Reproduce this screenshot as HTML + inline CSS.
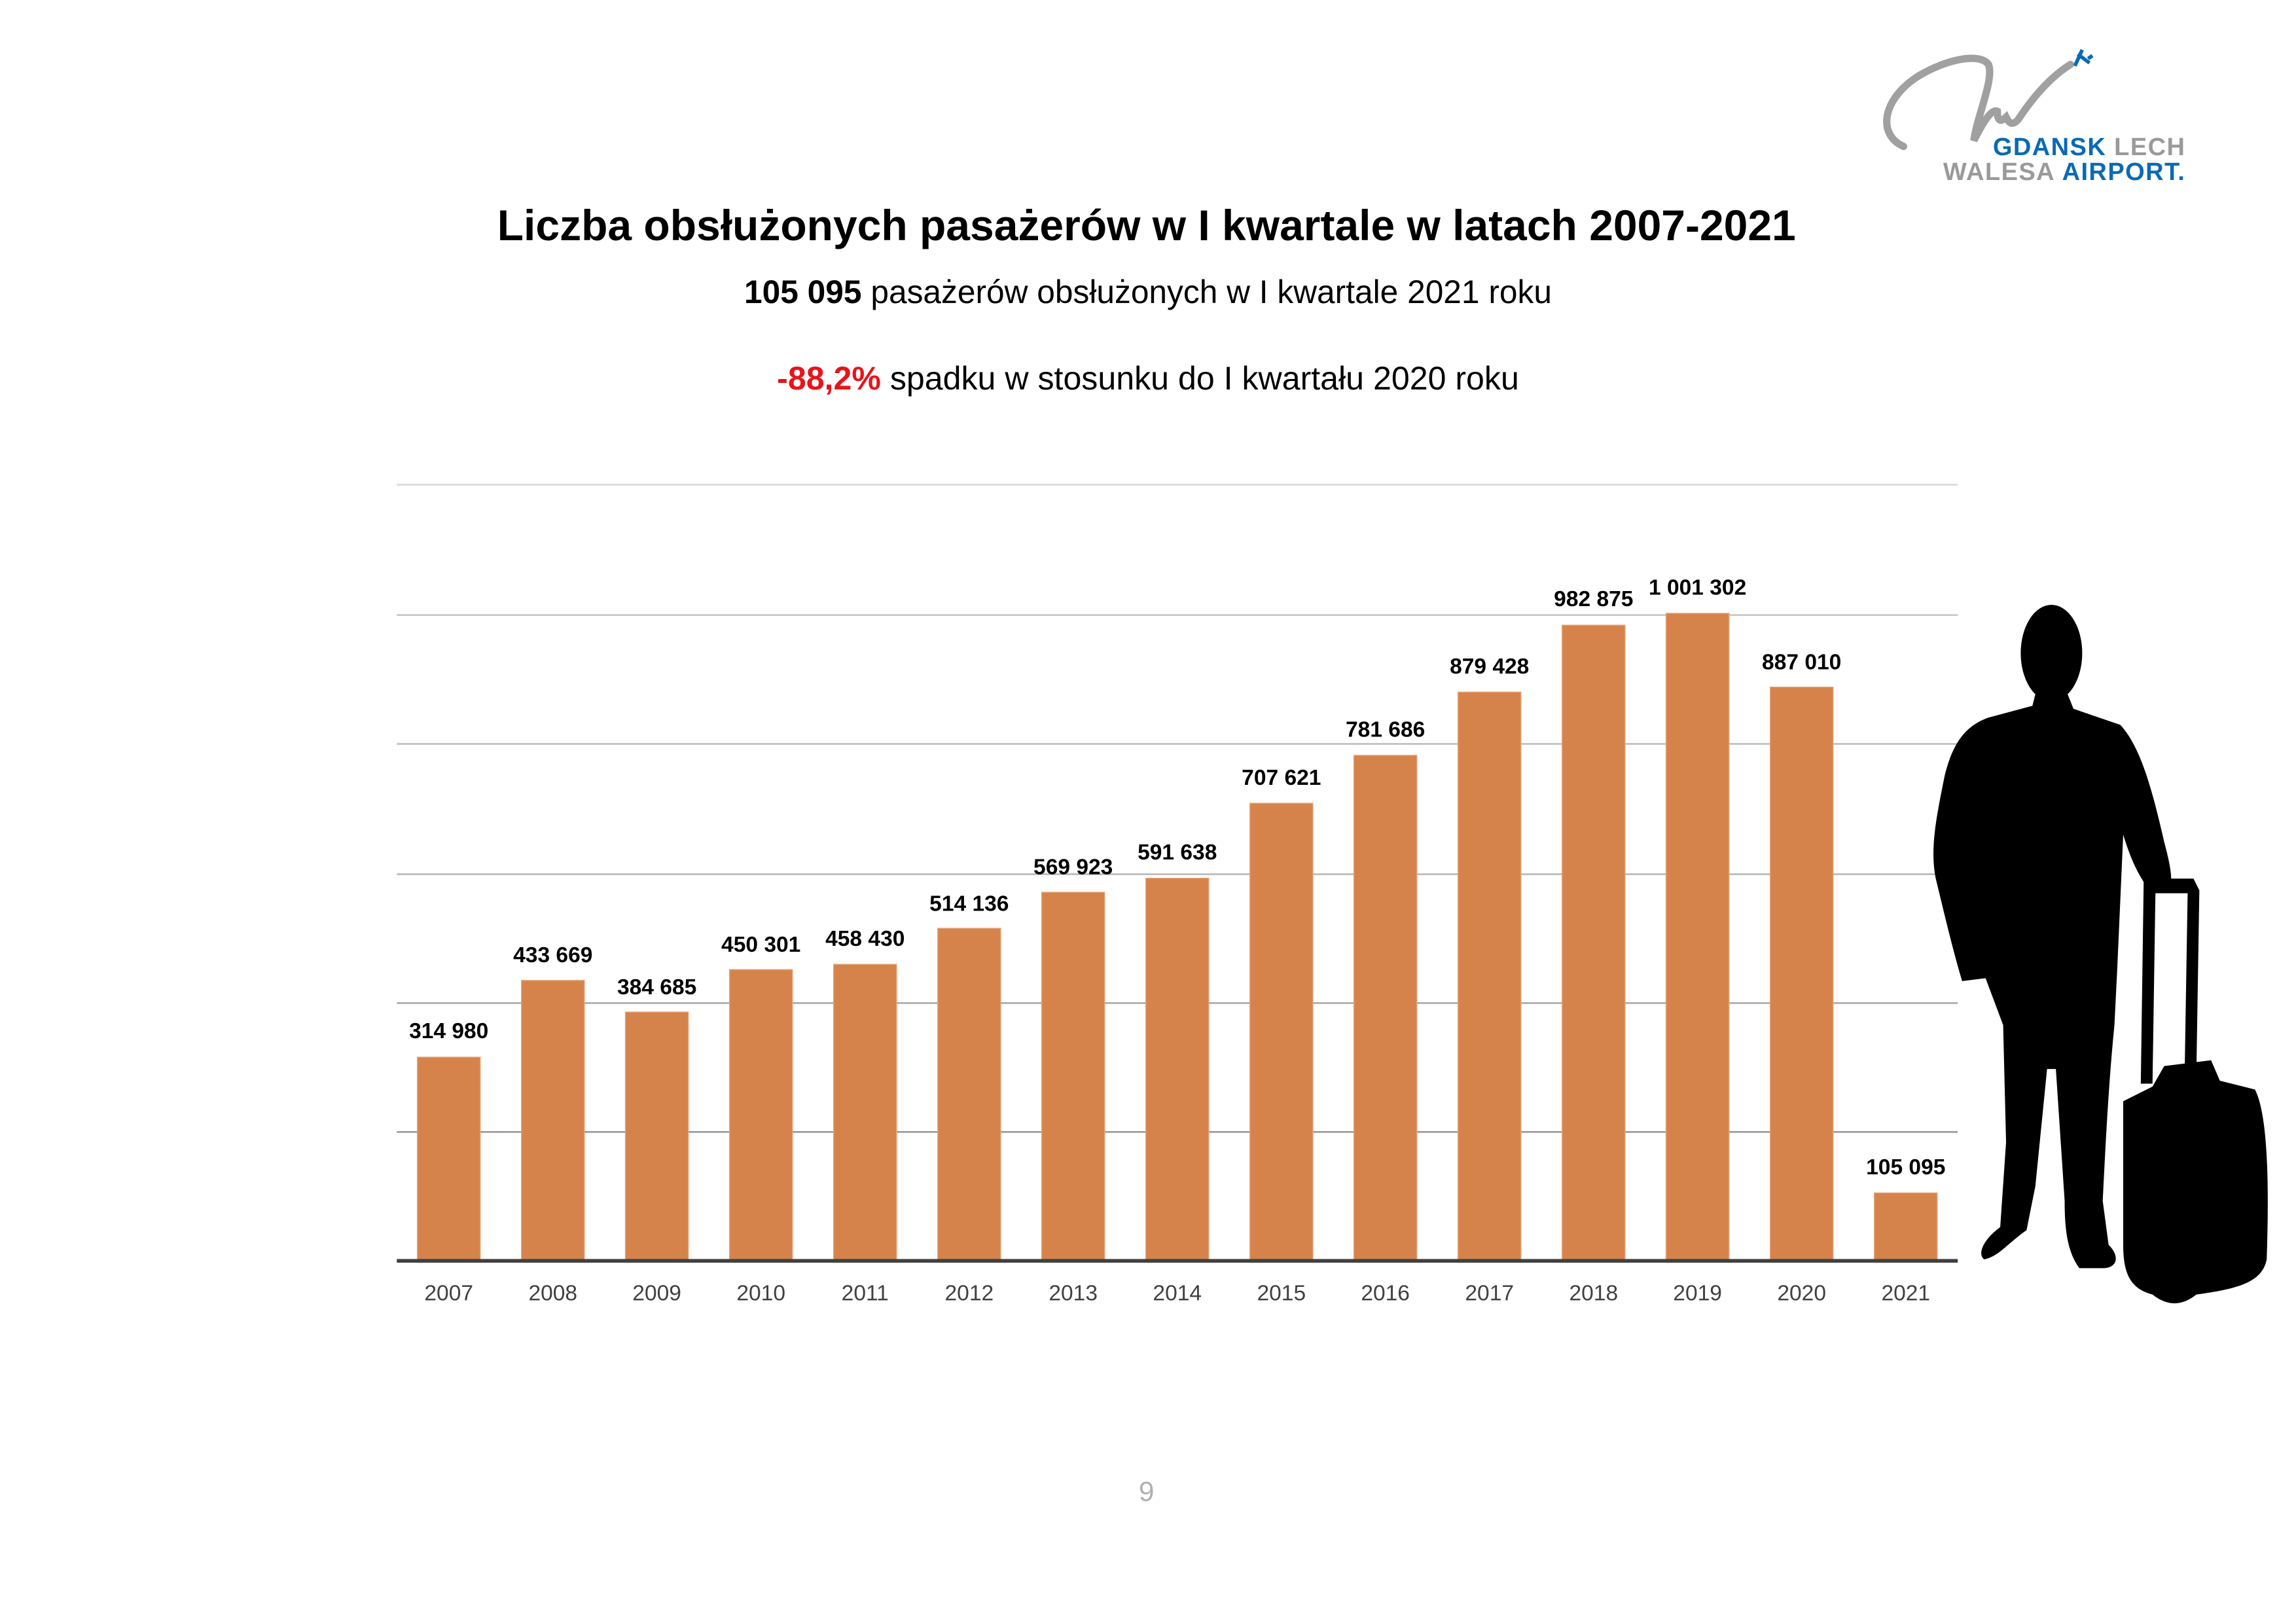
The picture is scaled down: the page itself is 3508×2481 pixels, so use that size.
<!DOCTYPE html>
<html><head><meta charset="utf-8"><style>
html,body{margin:0;padding:0;background:#fff;}
svg{display:block;}
</style></head><body>
<svg width="3508" height="2481" viewBox="0 0 1568 1109" preserveAspectRatio="none" xmlns="http://www.w3.org/2000/svg" font-family="'Liberation Sans', sans-serif">
<rect width="1568" height="1109" fill="#fff"/>
<!-- logo -->
<path d="M1300 100 C1282 92 1285 68 1310 52 C1330 40 1352 36 1358 44 C1362 54 1350 80 1348 96 C1354 84 1360 74 1364 76 C1364 82 1366 84 1370 80 C1372 84 1374 86 1378 82 C1386 70 1398 54 1414 44" fill="none" stroke="#a0a0a0" stroke-width="5" stroke-linecap="round"/>
<path d="M1419 37 l8 6 M1422 34 l-5 11 M1426 40 l3 -2" stroke="#0a6ab4" stroke-width="2.5" fill="none"/>
<text x="1361" y="106" font-size="17" font-weight="bold" fill="#0a6ab4" textLength="131">GDANSK <tspan fill="#9a9a9a">LECH</tspan></text>
<text x="1327" y="123" font-size="17" font-weight="bold" fill="#9a9a9a" textLength="165">WALESA <tspan fill="#0a6ab4">AIRPORT.</tspan></text>
<!-- titles -->
<text x="783" y="164" text-anchor="middle" font-size="29.5" font-weight="bold" fill="#000">Liczba obsłużonych pasażerów w I kwartale w latach 2007-2021</text>
<text x="784" y="207" text-anchor="middle" font-size="22.2" fill="#000"><tspan font-weight="bold">105 095</tspan> pasażerów obsłużonych w I kwartale 2021 roku</text>
<text x="784" y="266" text-anchor="middle" font-size="22.4" fill="#000"><tspan font-weight="bold" fill="#e8141b">-88,2%</tspan> spadku w stosunku do I kwartału 2020 roku</text>
<!-- grid -->
<g stroke-width="1.2">
<line x1="271" x2="1337" y1="331" y2="331" stroke="#dcdcdc"/>
<line x1="271" x2="1337" y1="420" y2="420" stroke="#c8c8c8"/>
<line x1="271" x2="1337" y1="508" y2="508" stroke="#c0c0c0"/>
<line x1="271" x2="1337" y1="597" y2="597" stroke="#b8b8b8"/>
<line x1="271" x2="1337" y1="685" y2="685" stroke="#aaa"/>
<line x1="271" x2="1337" y1="773" y2="773" stroke="#999"/>
</g>
<!-- bars -->
<g fill="#d6834b" stroke="#e6a57a" stroke-width="0.6">
<rect x="285" y="721.9" width="43" height="139.1"/>
<rect x="356.1" y="669.5" width="43" height="191.5"/>
<rect x="427.1" y="691.1" width="43" height="169.9"/>
<rect x="498.2" y="662.1" width="43" height="198.9"/>
<rect x="569.3" y="658.5" width="43" height="202.5"/>
<rect x="640.4" y="633.9" width="43" height="227.1"/>
<rect x="711.4" y="609.3" width="43" height="251.7"/>
<rect x="782.5" y="599.7" width="43" height="261.3"/>
<rect x="853.6" y="548.5" width="43" height="312.5"/>
<rect x="924.6" y="515.8" width="43" height="345.2"/>
<rect x="995.7" y="472.6" width="43" height="388.4"/>
<rect x="1066.8" y="426.9" width="43" height="434.1"/>
<rect x="1137.8" y="418.8" width="43" height="442.2"/>
<rect x="1208.9" y="469.2" width="43" height="391.8"/>
<rect x="1280" y="814.6" width="43" height="46.4"/>
</g>
<line x1="271" x2="1337" y1="861" y2="861" stroke="#404040" stroke-width="2.5"/>
<g font-size="15" font-weight="bold" fill="#000" text-anchor="middle">
<text x="306.5" y="709">314 980</text>
<text x="377.6" y="657">433 669</text>
<text x="448.6" y="679">384 685</text>
<text x="519.7" y="650">450 301</text>
<text x="590.8" y="646">458 430</text>
<text x="661.9" y="622">514 136</text>
<text x="732.9" y="597">569 923</text>
<text x="804" y="587">591 638</text>
<text x="875.1" y="536">707 621</text>
<text x="946.1" y="503">781 686</text>
<text x="1017.2" y="460">879 428</text>
<text x="1088.3" y="414">982 875</text>
<text x="1159.3" y="406">1 001 302</text>
<text x="1230.4" y="457">887 010</text>
<text x="1301.5" y="802">105 095</text>
</g>
<g font-size="15" fill="#404040" text-anchor="middle">
<text x="306.5" y="888">2007</text><text x="377.6" y="888">2008</text><text x="448.6" y="888">2009</text>
<text x="519.7" y="888">2010</text><text x="590.8" y="888">2011</text><text x="661.9" y="888">2012</text>
<text x="732.9" y="888">2013</text><text x="804" y="888">2014</text><text x="875.1" y="888">2015</text>
<text x="946.1" y="888">2016</text><text x="1017.2" y="888">2017</text><text x="1088.3" y="888">2018</text>
<text x="1159.3" y="888">2019</text><text x="1230.4" y="888">2020</text><text x="1301.5" y="888">2021</text>
</g>
<text x="783" y="1025" text-anchor="middle" font-size="19" fill="#b0b0b0">9</text>
<!-- silhouette -->
<g fill="#000">
<ellipse cx="1401" cy="446" rx="21" ry="33"/>
<path d="M1390 474 L1412 474 L1416 484 L1448 495 C1462 510 1470 540 1478 575 C1482 590 1484 600 1482 608 L1468 608 C1462 600 1456 590 1450 570 L1446 660 L1444 700 C1440 740 1438 780 1436 820 L1440 850 C1448 858 1446 866 1436 866 L1420 866 C1412 855 1410 840 1410 820 L1404 730 L1398 730 L1390 810 L1384 840 C1370 850 1365 858 1355 860 C1350 856 1355 846 1366 838 L1370 780 L1368 700 L1356 668 L1340 670 C1334 650 1328 625 1322 600 C1318 580 1322 560 1328 530 C1334 505 1344 495 1358 490 L1388 482 Z"/>
<path d="M1464 600 L1498 600 L1502 608 L1500 730 L1492 730 L1494 610 L1472 610 L1470 740 L1462 740 Z"/>
<path d="M1478 728 L1510 724 L1516 738 L1540 744 C1548 760 1550 800 1548 860 C1545 875 1530 880 1500 884 C1490 892 1480 892 1470 884 C1455 880 1450 870 1450 850 L1450 752 L1470 742 Z"/>
</g>
</svg>
</body></html>
